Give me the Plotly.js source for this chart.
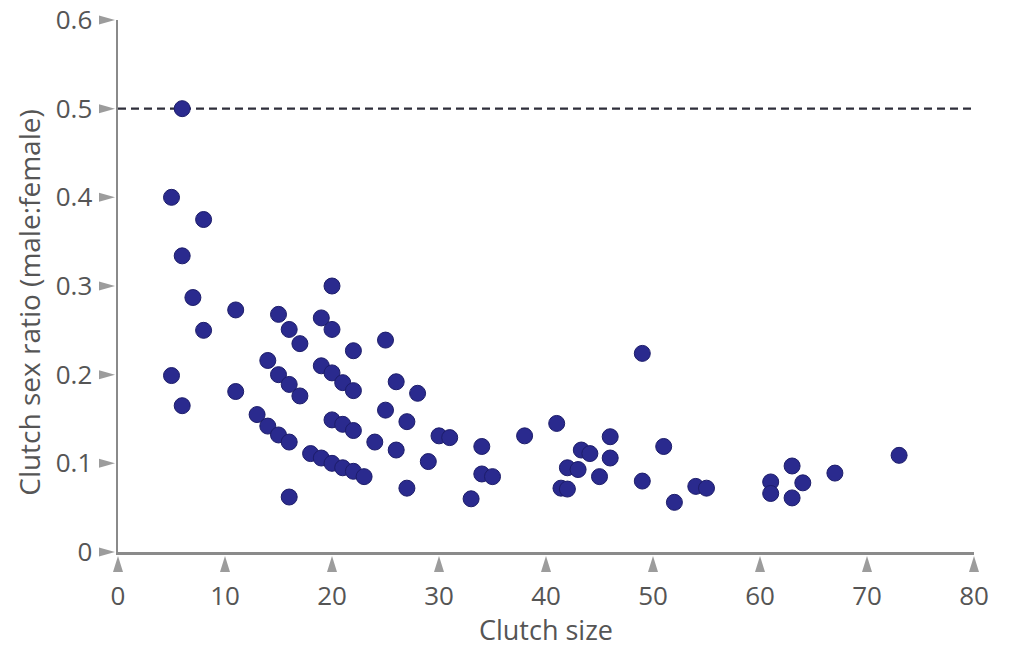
<!DOCTYPE html>
<html>
<head>
<meta charset="utf-8">
<script src="https://cdn.plot.ly/plotly-3.0.1.min.js"></script>
<style>html,body{margin:0;padding:0;background:#fff;}#chart{width:1011px;height:648px;}</style>
</head>
<body>
<div id="chart"></div>
<script>
// Data
const clutchSize = [
  5, 6, 6, 8, 7, 8, 5, 6, 11, 11, 13,
  15, 16, 17, 20, 19, 20, 22, 25,
  14, 15, 16, 17, 19, 20, 21, 22, 26, 28,
  14, 15, 16, 20, 21, 22, 25, 27, 24, 26, 29, 30, 31,
  18, 19, 20, 21, 22, 23, 16, 27,
  34, 34, 35, 33, 38, 41, 41.4, 42, 42, 43, 43.3, 44.1, 46, 46, 45,
  49, 49, 51, 52, 54, 55, 61, 61, 63, 63, 64, 67, 73
];
const sexRatio = [
  0.400, 0.500, 0.334, 0.375, 0.287, 0.250, 0.199, 0.165, 0.273, 0.181, 0.155,
  0.268, 0.251, 0.235, 0.300, 0.264, 0.251, 0.227, 0.239,
  0.216, 0.200, 0.189, 0.176, 0.210, 0.202, 0.191, 0.182, 0.192, 0.179,
  0.142, 0.132, 0.124, 0.149, 0.144, 0.137, 0.160, 0.147, 0.124, 0.115, 0.102, 0.131, 0.129,
  0.111, 0.106, 0.100, 0.095, 0.091, 0.085, 0.062, 0.072,
  0.119, 0.088, 0.085, 0.060, 0.131, 0.145, 0.072, 0.071, 0.095, 0.093, 0.115, 0.111, 0.130, 0.106, 0.085,
  0.224, 0.080, 0.119, 0.056, 0.074, 0.072, 0.079, 0.066, 0.097, 0.061, 0.078, 0.089, 0.109
];
const xTicks = [0, 10, 20, 30, 40, 50, 60, 70, 80];
const yTicks = [0, 0.1, 0.2, 0.3, 0.4, 0.5, 0.6];
const yTickLabels = ['0', '0.1', '0.2', '0.3', '0.4', '0.5', '0.6'];
const xRange = [0, 80];
const yRange = [0, 0.6];
const equalRatio = 0.5;
const xTitle = 'Clutch size';
const yTitle = 'Clutch sex ratio (male:female)';

const textColor = '#555555';
const axisColor = '#8a8a8a';
const tickColor = '#9c9c9c';

const toPaperX = v => (v - xRange[0]) / (xRange[1] - xRange[0]);
const toPaperY = v => (v - yRange[0]) / (yRange[1] - yRange[0]);

const shapes = [];
// dashed reference line
shapes.push({type:'line', xref:'paper', yref:'y', x0:0, x1:1, y0:equalRatio, y1:equalRatio,
  line:{color:'#2e2e3a', width:2.2, dash:'8px,5px'}, layer:'below'});
// triangle tick marks (anchored on tick values, converted to paper fractions)
xTicks.forEach(v => shapes.push({type:'path', xref:'paper', yref:'paper', xsizemode:'pixel', ysizemode:'pixel',
  xanchor:toPaperX(v), yanchor:0, path:'M -5,-20 L 5,-20 L 0,-4 Z', fillcolor:tickColor, line:{width:0}}));
yTicks.forEach(v => shapes.push({type:'path', xref:'paper', yref:'paper', xsizemode:'pixel', ysizemode:'pixel',
  xanchor:0, yanchor:toPaperY(v), path:'M -19,-4.5 L -19,4.5 L -3,0 Z', fillcolor:tickColor, line:{width:0}}));

const trace = {
  type:'scatter', mode:'markers', x:clutchSize, y:sexRatio, cliponaxis:false,
  marker:{size:16, color:'#2a2a8e', line:{color:'#1d1d6a', width:1}},
  hoverinfo:'x+y'
};

const layout = {
  width:1011, height:648,
  margin:{l:117.5, r:36.5, t:20, b:95.5},
  paper_bgcolor:'#ffffff', plot_bgcolor:'#ffffff',
  showlegend:false,
  font:{family:'"Open Sans", sans-serif', color:textColor, size:22},
  xaxis:{
    range:xRange, tickvals:xTicks, ticktext:xTicks.map(String), ticks:'', showgrid:false, zeroline:false,
    showline:true, linecolor:axisColor, linewidth:2.5,
    tickfont:{size:26, color:textColor}, ticklabelstandoff:19,
    title:{text:xTitle, font:{size:27, color:textColor}, standoff:3}
  },
  yaxis:{
    range:yRange, tickvals:yTicks, ticktext:yTickLabels, ticks:'', showgrid:false, zeroline:false,
    showline:true, linecolor:axisColor, linewidth:2.5,
    tickfont:{size:26, color:textColor}, ticklabelstandoff:18
  },
  annotations:[{
    text:yTitle, textangle:-90, showarrow:false,
    xref:'paper', x:0, xanchor:'center', xshift:-89,
    yref:'paper', y:0.4685, yanchor:'middle',
    font:{size:28, color:textColor}
  }],
  shapes:shapes
};

Plotly.newPlot('chart', [trace], layout, {displayModeBar:false, staticPlot:true});
</script>
</body>
</html>
